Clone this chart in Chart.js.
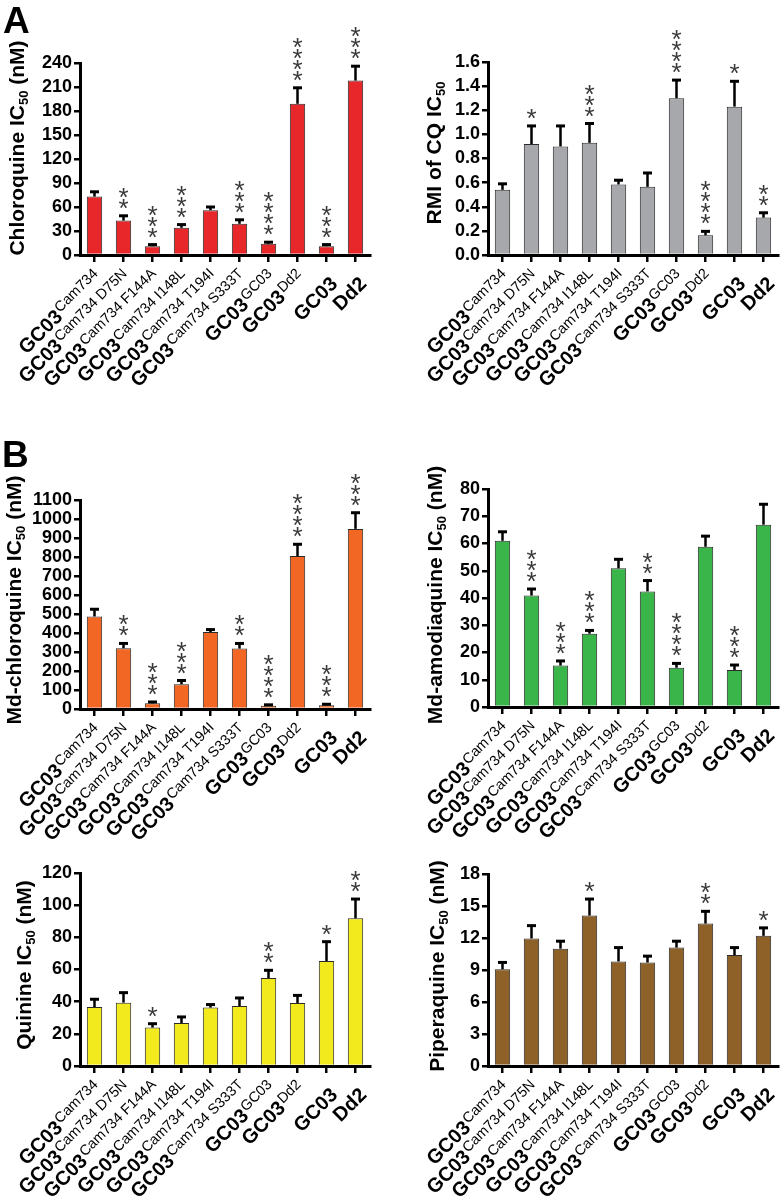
<!DOCTYPE html>
<html>
<head>
<meta charset="utf-8">
<script src="https://cdn.jsdelivr.net/npm/chart.js@4.4.1/dist/chart.umd.min.js"></script>
<style>
html, body { margin: 0; padding: 0; background: #fff; }
body { width: 781px; height: 1200px; position: relative; overflow: hidden; }
canvas { position: absolute; }
</style>
</head>
<body>
<canvas id="cq"></canvas>
<canvas id="rmi"></canvas>
<canvas id="mdcq"></canvas>
<canvas id="mdaq"></canvas>
<canvas id="qn"></canvas>
<canvas id="ppq"></canvas>
<script>
// strain labels: bold name + superscript part
var strainNames = ['GC03', 'GC03', 'GC03', 'GC03', 'GC03', 'GC03', 'GC03', 'GC03', 'GC03', 'Dd2'];
var strainSups = ['Cam734', 'Cam734 D75N', 'Cam734 F144A', 'Cam734 I148L', 'Cam734 T194I', 'Cam734 S333T', 'GC03', 'Dd2', '', ''];

// chloroquine IC50 (nM)
var cqMean = [73, 43, 11, 34, 56, 39, 14, 189, 11, 218];
var cqSem = [6, 6, 2, 4, 4, 5, 2, 20, 2, 18];
var cqStars = [0, 2, 3, 3, 0, 3, 4, 4, 3, 3];
var cqAxis = [0, 240, 30];

// RMI of CQ IC50
var rmiMean = [0.54, 0.92, 0.90, 0.93, 0.585, 0.565, 1.30, 0.163, 1.23, 0.31];
var rmiSem = [0.05, 0.15, 0.17, 0.16, 0.035, 0.115, 0.15, 0.033, 0.21, 0.04];
var rmiStars = [0, 1, 0, 3, 0, 0, 4, 4, 1, 2];
var rmiAxis = [0, 1.6, 0.2];

// Md-chloroquine IC50 (nM)
var mdcqMean = [487, 320, 30, 130, 405, 318, 17, 805, 20, 948];
var mdcqSem = [38, 25, 7, 20, 13, 27, 5, 62, 5, 85];
var mdcqStars = [0, 2, 3, 3, 0, 2, 4, 4, 3, 3];
var mdcqAxis = [0, 1100, 100];

// Md-amodiaquine IC50 (nM)
var mdaqMean = [61, 40.9, 15.2, 26.9, 50.9, 42.4, 14.4, 58.8, 13.6, 66.9];
var mdaqSem = [3.3, 2.4, 1.7, 1.2, 3.3, 4, 1.6, 3.9, 1.8, 7.5];
var mdaqStars = [0, 3, 3, 3, 0, 2, 4, 0, 3, 0];
var mdaqAxis = [0, 80, 10];

// quinine IC50 (nM)
var qnMean = [36.7, 39.4, 23.9, 26.7, 36.3, 37.3, 54.7, 39.2, 65.3, 91.8];
var qnSem = [4.8, 6.2, 2.4, 3.8, 1.9, 5, 4.8, 4.7, 12, 12];
var qnStars = [0, 0, 1, 0, 0, 0, 2, 0, 1, 2];
var qnAxis = [0, 120, 20];

// piperaquine IC50 (nM)
var ppqMean = [9.06, 11.96, 11.0, 14.1, 9.8, 9.7, 11.1, 13.35, 10.4, 12.2];
var ppqSem = [0.65, 1.2, 0.7, 1.55, 1.3, 0.6, 0.6, 1.15, 0.7, 0.75];
var ppqStars = [0, 0, 0, 1, 0, 0, 0, 2, 0, 1];
var ppqAxis = [0, 18, 3];

// page layout: canvas box [x, y, w, h], plot area [left, top, right, bottom]
var panels = [
    {id: 'cq', box: [0, 0, 390, 385], area: [80, 63, 370, 255], color: '#E8272B',
     mean: cqMean, sem: cqSem, stars: cqStars, axis: cqAxis, decimals: 0,
     title: ['Chloroquine IC', '50', ' (nM)'], titleAt: [16, 148], letter: 'A', letterAt: [3, 33]},
    {id: 'rmi', box: [390, 0, 391, 385], area: [488, 62, 778, 255], color: '#A7A8AB',
     mean: rmiMean, sem: rmiSem, stars: rmiStars, axis: rmiAxis, decimals: 1,
     title: ['RMI of CQ IC', '50', ''], titleAt: [433, 153]},
    {id: 'mdcq', box: [0, 385, 390, 460], area: [80, 500, 370, 709], color: '#F26724',
     mean: mdcqMean, sem: mdcqSem, stars: mdcqStars, axis: mdcqAxis, decimals: 0,
     title: ['Md-chloroquine IC', '50', ' (nM)'], titleAt: [13, 600], letter: 'B', letterAt: [2, 467]},
    {id: 'mdaq', box: [390, 385, 391, 460], area: [488, 489, 778, 707], color: '#3AB54A',
     mean: mdaqMean, sem: mdaqSem, stars: mdaqStars, axis: mdaqAxis, decimals: 0,
     title: ['Md-amodiaquine IC', '50', ' (nM)'], titleAt: [434, 595]},
    {id: 'qn', box: [0, 845, 390, 355], area: [80, 873, 370, 1066], color: '#F2EA1D',
     mean: qnMean, sem: qnSem, stars: qnStars, axis: qnAxis, decimals: 0,
     title: ['Quinine IC', '50', ' (nM)'], titleAt: [23, 965]},
    {id: 'ppq', box: [390, 845, 391, 355], area: [488, 874, 778, 1066], color: '#8D6127',
     mean: ppqMean, sem: ppqSem, stars: ppqStars, axis: ppqAxis, decimals: 0,
     title: ['Piperaquine IC', '50', ' (nM)'], titleAt: [436, 966]}
];

var FONT = '"Liberation Sans", Arial, sans-serif';

// error bars, asterisks, rotated strain labels, axis title and panel letter
var decorPlugin = {
    id: 'decor',
    afterDatasetsDraw: function(chart) {
        var p = chart.options.plugins.decor.panel;
        var ctx = chart.ctx;
        var yScale = chart.scales.y;
        var bars = chart.getDatasetMeta(0).data;
        ctx.save();
        ctx.font = '26px ' + FONT;
        var m = ctx.measureText('*');
        var starOff = (m.actualBoundingBoxAscent - m.actualBoundingBoxDescent) / 2;
        bars.forEach(function(bar, i) {
            var top = yScale.getPixelForValue(p.mean[i] + p.sem[i]);
            ctx.strokeStyle = '#000';
            ctx.lineWidth = 2.5;
            ctx.beginPath();
            ctx.moveTo(bar.x, bar.y);
            ctx.lineTo(bar.x, top);
            ctx.stroke();
            ctx.lineWidth = 3;
            ctx.beginPath();
            ctx.moveTo(bar.x - 4.5, top);
            ctx.lineTo(bar.x + 4.5, top);
            ctx.stroke();
            ctx.fillStyle = '#3a3a3a';
            ctx.textAlign = 'center';
            ctx.textBaseline = 'alphabetic';
            for (var k = 0; k < p.stars[i]; k++) {
                ctx.fillText('*', bar.x, top - 12 - k * 11 + starOff);
            }
        });
        ctx.restore();
    },
    afterDraw: function(chart) {
        var p = chart.options.plugins.decor.panel;
        var ctx = chart.ctx;
        var xScale = chart.scales.x;
        var bx = p.box[0], by = p.box[1];
        var axisY = chart.chartArea.bottom;
        ctx.save();
        ctx.fillStyle = '#000';
        ctx.textBaseline = 'alphabetic';
        ctx.textAlign = 'left';

        // x labels, rotated 45 degrees
        strainNames.forEach(function(name, i) {
            var x = xScale.getPixelForValue(i);
            var sup = strainSups[i];
            ctx.save();
            if (sup) {
                ctx.translate(x + 8.5, axisY + 23.5);
            } else {
                ctx.translate(x + 12, axisY + 30);
            }
            ctx.rotate(-Math.PI / 4);
            var supW = 0;
            if (sup) {
                ctx.font = '14.5px ' + FONT;
                supW = ctx.measureText(sup).width + 1;
                ctx.fillText(sup, -supW + 1, -6);
            }
            ctx.font = 'bold 20px ' + FONT;
            var w = ctx.measureText(name).width;
            ctx.fillText(name, -supW - w, 0);
            ctx.restore();
        });

        // y title with subscript
        var t = p.title;
        ctx.save();
        ctx.translate(p.titleAt[0] - bx, p.titleAt[1] - by);
        ctx.rotate(-Math.PI / 2);
        ctx.font = 'bold 21px ' + FONT;
        var w1 = ctx.measureText(t[0]).width;
        var w3 = ctx.measureText(t[2]).width;
        ctx.font = 'bold 13px ' + FONT;
        var w2 = ctx.measureText(t[1]).width;
        var x0 = -(w1 + w2 + w3) / 2;
        var base = 7.5;
        ctx.font = 'bold 21px ' + FONT;
        ctx.fillText(t[0], x0, base);
        ctx.fillText(t[2], x0 + w1 + w2, base);
        ctx.font = 'bold 13px ' + FONT;
        ctx.fillText(t[1], x0 + w1, base + 4);
        ctx.restore();

        if (p.letter) {
            ctx.font = 'bold 37px ' + FONT;
            ctx.fillText(p.letter, p.letterAt[0] - bx, p.letterAt[1] - by);
        }
        ctx.restore();
    }
};

panels.forEach(function(p) {
    var canvas = document.getElementById(p.id);
    canvas.width = p.box[2];
    canvas.height = p.box[3];
    canvas.style.left = p.box[0] + 'px';
    canvas.style.top = p.box[1] + 'px';

    var yWidth = p.area[0] - p.box[0];
    var xHeight = p.box[1] + p.box[3] - p.area[3];

    new Chart(canvas, {
        type: 'bar',
        data: {
            labels: strainNames.map(function(n, i) { return n + ' ' + strainSups[i]; }),
            datasets: [{
                data: p.mean,
                backgroundColor: p.color,
                borderColor: '#2a2a2a',
                borderWidth: 1,
                categoryPercentage: 1,
                barPercentage: 0.53
            }]
        },
        options: {
            responsive: false,
            animation: false,
            layout: {
                padding: {
                    top: p.area[1] - p.box[1],
                    right: p.box[0] + p.box[2] - p.area[2],
                    bottom: 0,
                    left: 0
                }
            },
            plugins: {
                legend: { display: false },
                tooltip: { enabled: false },
                decor: { panel: p }
            },
            scales: {
                x: {
                    offset: true,
                    grid: {
                        display: true,
                        offset: false,
                        drawOnChartArea: false,
                        drawTicks: true,
                        tickLength: 7,
                        lineWidth: 2.5,
                        color: '#000'
                    },
                    border: { display: true, color: '#000', width: 3 },
                    ticks: { display: false },
                    afterFit: function(s) { s.height = xHeight; }
                },
                y: {
                    min: p.axis[0],
                    max: p.axis[1],
                    grid: {
                        drawOnChartArea: false,
                        drawTicks: true,
                        tickLength: 6,
                        lineWidth: 2.5,
                        color: '#000'
                    },
                    border: { display: true, color: '#000', width: 3 },
                    ticks: {
                        stepSize: p.axis[2],
                        autoSkip: false,
                        color: '#000',
                        padding: 2,
                        font: { family: FONT, size: 18, weight: 'bold' },
                        callback: function(v) { return Number(v).toFixed(p.decimals); }
                    },
                    afterFit: function(s) { s.width = yWidth; }
                }
            }
        },
        plugins: [decorPlugin]
    });
});
</script>
</body>
</html>
